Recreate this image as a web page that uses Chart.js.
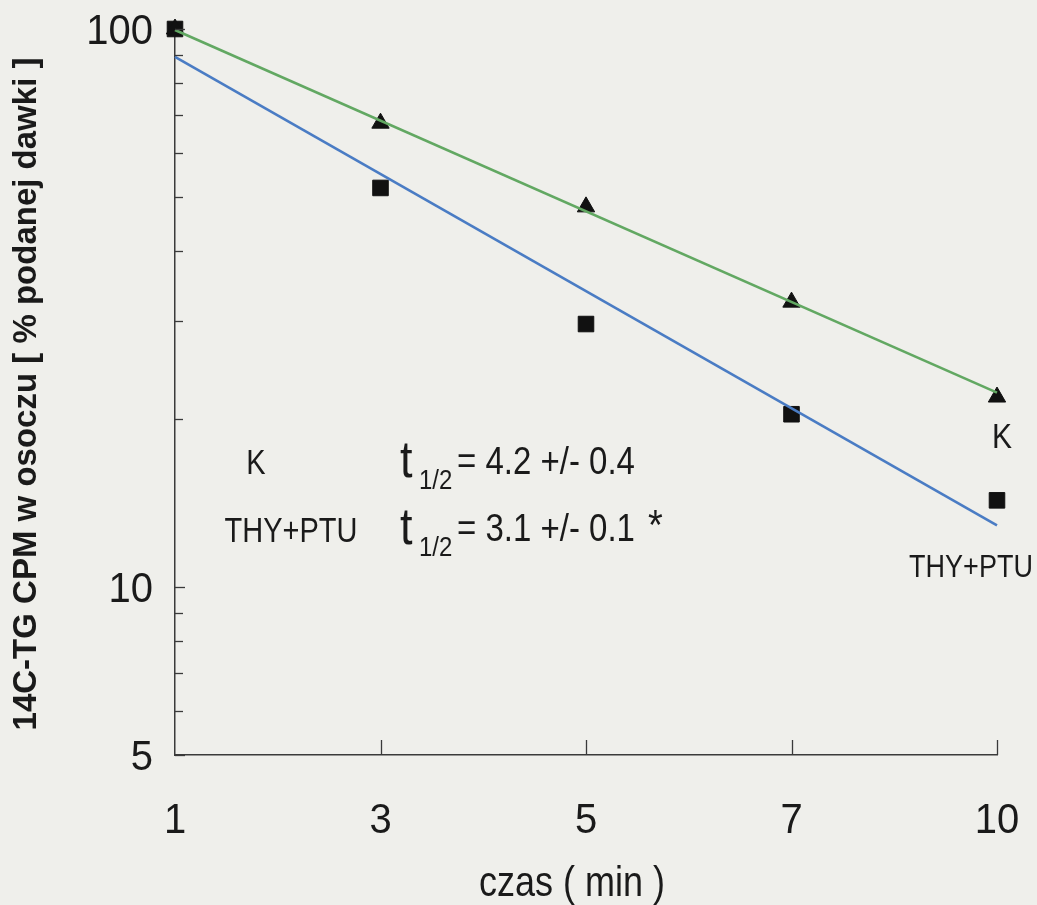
<!DOCTYPE html>
<html>
<head>
<meta charset="utf-8">
<script src="https://cdn.jsdelivr.net/npm/chart.js@4"></script>
<style>
  html, body { margin: 0; padding: 0; background: #efefeb; }
  #wrap { width: 1037px; height: 905px; position: relative; }
</style>
</head>
<body>
<div id="wrap"><canvas id="myChart"></canvas></div>
<script>
// czas (min) - evenly spaced on the axis
const timeLabels = ['1', '3', '5', '7', '10'];
// measured points, % of dose
const kValues = [100, 67.8, 48.0, 32.4, 21.9];
const thyValues = [100, 51.9, 29.6, 20.4, 14.3];
// fitted lines, value at first and last time
const kFit = [99.6, 22.3];
const thyFit = [89.1, 12.9];
// y axis ticks (log), labels only on some
const yTicks = [5, 6, 7, 8, 9, 10, 20, 30, 40, 50, 60, 70, 80, 90, 100];
const yLabelled = [5, 10, 100];

const textColor = '#1a1a1a';
const axisColor = '#3a3a3a';
const FAM = '"Liberation Sans", Arial, sans-serif';

const toPoints = (vals) => vals.map((v, i) => ({ x: i, y: v }));
const fitPoints = (f) => [{ x: 0, y: f[0] }, { x: timeLabels.length - 1, y: f[1] }];

// text a bit taller than wide, like the scanned original
function tallText(ctx, txt, x, y, font, align, sy) {
    ctx.save();
    ctx.translate(x, y);
    ctx.scale(1, sy || 1.18);
    ctx.font = font;
    ctx.textAlign = align || 'center';
    ctx.textBaseline = 'alphabetic';
    ctx.fillText(txt, 0, 0);
    ctx.restore();
}

const bgPlugin = {
    id: 'bg',
    beforeDraw(chart) {
        const ctx = chart.ctx;
        ctx.save();
        ctx.fillStyle = '#efefeb';
        ctx.fillRect(0, 0, chart.width, chart.height);
        ctx.restore();
    }
};

// inward tick marks, tick labels, titles and text annotations
const extrasPlugin = {
    id: 'extras',
    afterDraw(chart) {
        const ctx = chart.ctx;
        const x = chart.scales.x, y = chart.scales.y;
        const area = chart.chartArea;
        ctx.save();
        ctx.strokeStyle = axisColor;
        ctx.lineWidth = 1.3;
        yTicks.forEach(v => {
            const py = Math.round(y.getPixelForValue(v)) + 0.5;
            ctx.beginPath();
            ctx.moveTo(area.left, py);
            ctx.lineTo(area.left + (yLabelled.includes(v) ? 10 : 8), py);
            ctx.stroke();
        });
        for (let i = 1; i < timeLabels.length; i++) {
            const px = Math.round(x.getPixelForValue(i)) + 0.5;
            ctx.beginPath();
            ctx.moveTo(px, area.bottom);
            ctx.lineTo(px, area.bottom - 15);
            ctx.stroke();
        }

        ctx.fillStyle = textColor;
        // tick labels
        yLabelled.forEach(v => {
            tallText(ctx, String(v), 153, y.getPixelForValue(v) + 15, '40px ' + FAM, 'right', 1.05);
        });
        timeLabels.forEach((t, i) => {
            tallText(ctx, t, x.getPixelForValue(i), 833, '40px ' + FAM, 'center', 1.05);
        });

        // y title
        ctx.save();
        ctx.translate(27, 394);
        ctx.rotate(-Math.PI / 2);
        ctx.font = 'bold 33px ' + FAM;
        ctx.textAlign = 'center';
        ctx.textBaseline = 'middle';
        ctx.fillText('14C-TG CPM w osoczu [ % podanej dawki ]', 0, 0);
        ctx.restore();

        // x title
        tallText(ctx, 'czas ( min )', 572, 896, '36px ' + FAM, 'center', 1.2);

        // group labels
        tallText(ctx, 'K', 256, 474, '29px ' + FAM);
        tallText(ctx, 'THY+PTU', 291, 542, '29px ' + FAM);
        tallText(ctx, 'K', 1002, 448, '30px ' + FAM);
        tallText(ctx, 'THY+PTU', 971, 577, '27px ' + FAM);

        // half-lives
        const halfLife = (base, txt, star) => {
            tallText(ctx, 't', 400, base + 3, '45px ' + FAM, 'left', 1.15);
            tallText(ctx, '1/2', 419, base + 15, '24px ' + FAM, 'left', 1.15);
            tallText(ctx, txt, 457, base, '33px ' + FAM, 'left', 1.15);
            ctx.font = '33px ' + FAM;
            const w = ctx.measureText(txt).width;
            if (star) tallText(ctx, '*', 457 + w + 13, base - 2, '38px ' + FAM, 'left', 1.1);
        };
        halfLife(474, '= 4.2 +/- 0.4', false);
        halfLife(541, '= 3.1 +/- 0.1', true);
        ctx.restore();
    }
};

const ctx = document.getElementById('myChart').getContext('2d');
new Chart(ctx, {
    type: 'scatter',
    data: {
        datasets: [
            {
                label: 'K fit',
                type: 'line',
                data: fitPoints(kFit),
                borderColor: '#62a862',
                borderWidth: 2.6,
                pointRadius: 0,
                fill: false,
                clip: false
            },
            {
                label: 'THY+PTU fit',
                type: 'line',
                data: fitPoints(thyFit),
                borderColor: '#4a7cc4',
                borderWidth: 2.6,
                pointRadius: 0,
                fill: false,
                clip: false
            },
            {
                label: 'K',
                data: toPoints(kValues),
                pointStyle: 'triangle',
                pointRadius: 10,
                backgroundColor: '#111',
                borderColor: '#111',
                borderWidth: 1,
                clip: false
            },
            {
                label: 'THY+PTU',
                data: toPoints(thyValues),
                pointStyle: 'rect',
                pointRadius: 11,
                backgroundColor: '#111',
                borderColor: '#111',
                borderWidth: 1,
                clip: false
            }
        ]
    },
    options: {
        responsive: true,
        maintainAspectRatio: false,
        animation: false,
        layout: { padding: { top: 29, right: 40, left: 0, bottom: 0 } },
        plugins: {
            legend: { display: false },
            tooltip: { enabled: false }
        },
        scales: {
            x: {
                type: 'linear',
                min: 0,
                max: timeLabels.length - 1,
                afterFit: (s) => { s.height = 150; },
                afterBuildTicks: (s) => { s.ticks = timeLabels.map((_, i) => ({ value: i })); },
                ticks: { display: false },
                grid: { display: false },
                border: { display: true, color: axisColor, width: 1.5 }
            },
            y: {
                type: 'logarithmic',
                min: 5,
                max: 100,
                afterFit: (s) => { s.width = 175; },
                afterBuildTicks: (s) => { s.ticks = yTicks.map(v => ({ value: v })); },
                ticks: { display: false },
                grid: { display: false },
                border: { display: true, color: axisColor, width: 1.5 }
            }
        }
    },
    plugins: [bgPlugin, extrasPlugin]
});
</script>
</body>
</html>
